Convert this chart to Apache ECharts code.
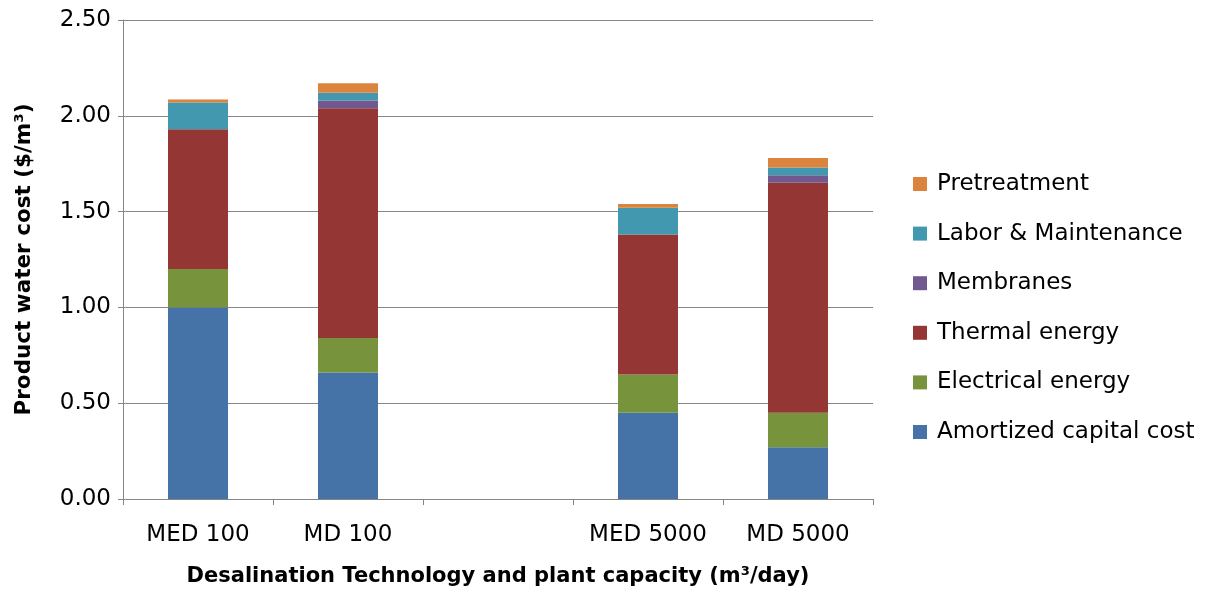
<!DOCTYPE html>
<html>
<head>
<meta charset="utf-8">
<script src="https://cdn.jsdelivr.net/npm/echarts@6/dist/echarts.min.js"></script>
<style>
  html, body { margin: 0; padding: 0; background: #fff; }
  #chart { width: 1206px; height: 594px; }
</style>
</head>
<body>
<div id="chart"></div>
<script>
// Plant configurations (empty slot separates the two capacity groups)
const categories = ['MED 100', 'MD 100', '', 'MED 5000', 'MD 5000'];

// Cost components, $/m3
const amortizedCapital = [1.00, 0.66, null, 0.45, 0.27];
const electricalEnergy = [0.20, 0.18, null, 0.20, 0.18];
const thermalEnergy    = [0.73, 1.20, null, 0.73, 1.20];
const membranes        = [0.00, 0.04, null, 0.00, 0.04];
const laborMaintenance = [0.14, 0.04, null, 0.14, 0.04];
const pretreatment     = [0.015, 0.05, null, 0.02, 0.05];

const yTicks = { min: 0, max: 2.5, interval: 0.5 };

const seriesDefs = [
  { name: 'Amortized capital cost', data: amortizedCapital, color: '#4572A7' },
  { name: 'Electrical energy',      data: electricalEnergy, color: '#77933C' },
  { name: 'Thermal energy',         data: thermalEnergy,    color: '#943634' },
  { name: 'Membranes',              data: membranes,        color: '#71588F' },
  { name: 'Labor & Maintenance',    data: laborMaintenance, color: '#4198AF' },
  { name: 'Pretreatment',           data: pretreatment,     color: '#DB843D' }
];

const FONT = 'DejaVu Sans';
const gray = '#868686';

const chart = echarts.init(document.getElementById('chart'), null, { renderer: 'canvas' });

chart.setOption({
  animation: false,
  backgroundColor: '#fff',
  grid: { left: 123, right: 333, top: 20, bottom: 95, containLabel: false },
  legend: {
    orient: 'vertical',
    left: 908,
    top: 167,
    itemWidth: 14,
    itemHeight: 14,
    itemGap: 25.6,
    icon: 'rect',
    data: seriesDefs.map(s => s.name).reverse(),
    textStyle: { fontFamily: FONT, fontSize: 23, color: '#000', lineHeight: 24, padding: [0, 0, 0, 5] }
  },
  xAxis: {
    type: 'category',
    data: categories,
    name: 'Desalination Technology and plant capacity (m³/day)',
    nameLocation: 'middle',
    nameGap: 67,
    nameTextStyle: { fontFamily: FONT, fontSize: 21, fontWeight: 'bold', color: '#000' },
    axisLine: { lineStyle: { color: gray, width: 1 } },
    axisTick: { show: true, length: 6, lineStyle: { color: gray } },
    axisLabel: { fontFamily: FONT, fontSize: 23, color: '#000', margin: 25, interval: 0 },
    splitLine: { show: false }
  },
  yAxis: {
    type: 'value',
    min: yTicks.min,
    max: yTicks.max,
    interval: yTicks.interval,
    name: 'Product water cost ($/m³)',
    nameLocation: 'middle',
    nameGap: 88,
    nameTextStyle: { fontFamily: FONT, fontSize: 21.5, fontWeight: 'bold', color: '#000' },
    axisLine: { show: true, lineStyle: { color: gray, width: 1 } },
    axisTick: { show: true, length: 5, lineStyle: { color: gray } },
    axisLabel: {
      fontFamily: FONT, fontSize: 23, color: '#000', margin: 12,
      formatter: v => v.toFixed(2)
    },
    splitLine: { show: true, lineStyle: { color: gray, width: 1 } }
  },
  series: seriesDefs.map(s => ({
    name: s.name,
    type: 'bar',
    stack: 'cost',
    barWidth: 60,
    data: s.data,
    itemStyle: { color: s.color }
  }))
});
</script>
</body>
</html>
